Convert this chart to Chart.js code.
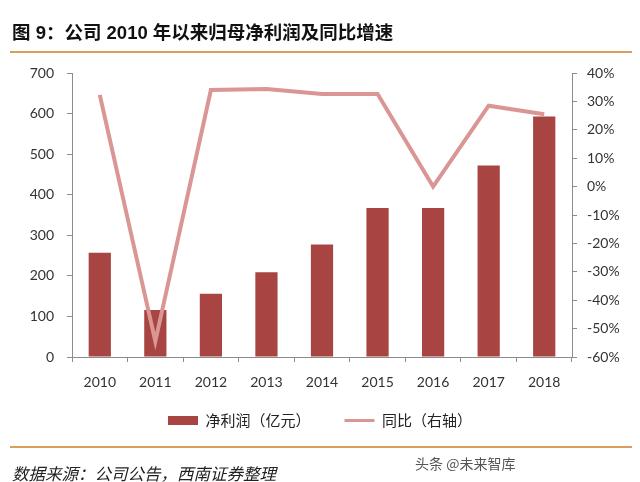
<!DOCTYPE html>
<html>
<head>
<meta charset="utf-8">
<script src="https://cdn.jsdelivr.net/npm/chart.js"></script>
<style>
  body{margin:0;background:#fff;}
  #wrap{position:relative;width:640px;height:482px;overflow:hidden;}
  #chart{position:absolute;left:0;top:0;}
  .ttl{position:absolute;left:12px;top:18px;font:bold 18.5px "Liberation Sans","Noto Sans CJK SC",sans-serif;color:#111;white-space:nowrap;}
  .rule{position:absolute;left:10px;width:622px;height:2px;background:#d6a05c;}
  .src{position:absolute;left:12px;top:461px;font:italic 16.5px "Noto Sans CJK SC",sans-serif;color:#222;white-space:nowrap;}
  .wm{position:absolute;left:415px;top:453px;font:14px "Noto Sans CJK SC",sans-serif;color:#555;white-space:nowrap;}
</style>
</head>
<body>
<div id="wrap">
  <canvas id="chart" width="640" height="482"></canvas>
  <div class="ttl">图 9：公司 2010 年以来归母净利润及同比增速</div>
  <div class="rule" style="top:51px"></div>
  <div class="rule" style="top:446px"></div>
  <div class="src">数据来源：公司公告，西南证券整理</div>
  <div class="wm">头条 @未来智库</div>
</div>
<script>
/* ====== データ ====== */
const YEARS = ["2010","2011","2012","2013","2014","2015","2016","2017","2018"];
const PROFIT = [257, 116, 156, 209, 277, 367, 367, 472, 593];      // 净利润（亿元）
const YOY = [32.3, -54.5, 34.0, 34.4, 32.6, 32.6, 0, 28.5, 25.5];   // 同比（%）
const PROFIT_LABEL = "净利润（亿元）";
const YOY_LABEL = "同比（右轴）";

const BAR_COLOR = "#a84441";
const LINE_COLOR = "#d99694";
const AXIS_COLOR = "#8c8c8c";
const TICK_FONT = {family:"Lato, 'Liberation Sans', sans-serif", size:14};

// 凡例を軸ラベルの直下へ寄せる（padding が横の間隔も兼ねるため）
const legendShift = {
  id:'legendShift',
  afterLayout: chart => { chart.legend.top -= 24; chart.legend.bottom -= 24; }
};

new Chart(document.getElementById('chart'), {
  data:{
    labels: YEARS,
    datasets:[
      {type:'bar', label:PROFIT_LABEL, data:PROFIT, yAxisID:'y',
       backgroundColor:BAR_COLOR, categoryPercentage:1, barPercentage:0.4, order:1},
      {type:'line', label:YOY_LABEL, data:YOY, yAxisID:'y1',
       borderColor:LINE_COLOR, borderWidth:4, pointRadius:0, tension:0, order:0}
    ]
  },
  options:{
    responsive:false,
    animation:false,
    layout:{padding:{top:73, left:0, right:0, bottom:20}},
    plugins:{
      tooltip:{enabled:false},
      legend:{
        position:'bottom',
        labels:{
          usePointStyle:true, pointStyleWidth:30, boxHeight:9, padding:34,
          color:'#222', font:{family:"'Noto Sans CJK SC', sans-serif", size:15},
          generateLabels: chart => chart.data.datasets.map((ds,i)=>({
            text: ds.label, datasetIndex:i,
            pointStyle: ds.type==='bar' ? 'rect' : 'line',
            fillStyle: ds.type==='bar' ? ds.backgroundColor : ds.borderColor,
            strokeStyle: ds.type==='bar' ? ds.backgroundColor : ds.borderColor,
            lineWidth: ds.type==='bar' ? 0 : 3,
            fontColor:'#222'
          }))
        }
      }
    },
    scales:{
      x:{
        grid:{drawOnChartArea:false, tickLength:5, color:AXIS_COLOR},
        border:{color:AXIS_COLOR},
        ticks:{color:'#333', font:TICK_FONT, padding:12, maxRotation:0},
        afterFit: s => { s.height = 46; }
      },
      y:{
        position:'left', min:0, max:700,
        grid:{drawOnChartArea:false, tickLength:5, color:AXIS_COLOR},
        border:{color:AXIS_COLOR},
        ticks:{stepSize:100, color:'#333', font:TICK_FONT, padding:13},
        afterFit: s => { s.width = 72; }
      },
      y1:{
        position:'right', min:-60, max:40,
        grid:{drawOnChartArea:false, tickLength:5, color:AXIS_COLOR},
        border:{color:AXIS_COLOR},
        ticks:{stepSize:10, color:'#333', font:TICK_FONT, padding:10, callback:v=>v+'%'},
        afterFit: s => { s.width = 68; }
      }
    }
  },
  plugins:[legendShift]
});
</script>
</body>
</html>
